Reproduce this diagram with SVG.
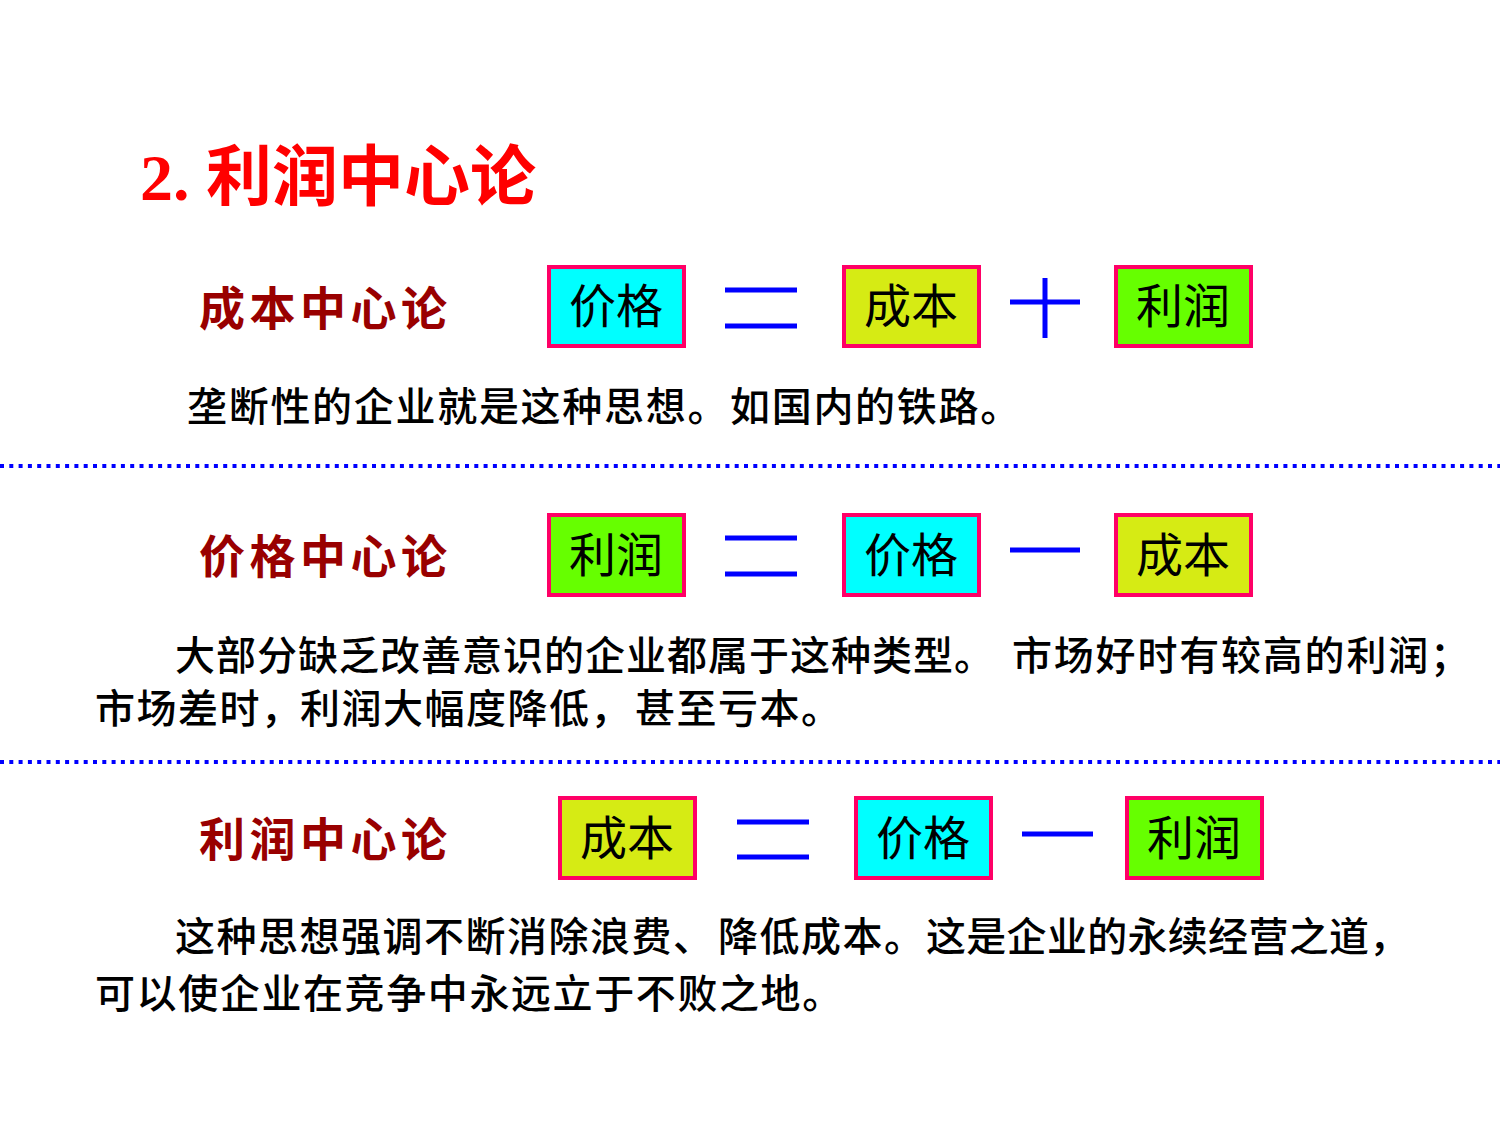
<svg xmlns="http://www.w3.org/2000/svg" width="1500" height="1125" viewBox="0 0 1500 1125">
<style>
.title{font-family:"Liberation Serif","Noto Sans CJK SC",serif;font-weight:bold;font-size:66px;fill:#FF0000}
.sub{font-family:"Noto Sans CJK SC",sans-serif;font-weight:bold;font-size:46px;fill:#990000;letter-spacing:4.5px}
.box{stroke:#FF0066;stroke-width:4}
.cy{fill:#00FFFF}.ye{fill:#D6EB14}.gr{fill:#66FF00}
.bt{font-family:"Noto Sans CJK SC",sans-serif;font-size:47px;fill:#000;text-anchor:middle}
.body{font-family:"Noto Sans CJK SC",sans-serif;font-weight:500;font-size:40px;fill:#000}
.op{stroke:#0000FF;stroke-width:5;fill:none}
.dot{stroke:#0000FF;stroke-width:4;stroke-dasharray:4 5.3;fill:none}
</style>
<rect width="1500" height="1125" fill="#fff"/>
<text class="title" x="140" y="200">2. 利润中心论</text>
<g id="dividers">
<line class="dot" x1="0" y1="466" x2="1500" y2="466"/>
<line class="dot" x1="0" y1="762" x2="1500" y2="762"/>
</g>
<g id="row1">
<text class="sub" x="199" y="325">成本中心论</text>
<g id="r1-price"><rect class="box cy" x="549" y="267" width="135" height="79"/><text class="bt" x="616" y="323">价格</text></g>
<g id="r1-eq"><line class="op" x1="725" y1="290" x2="797" y2="290"/><line class="op" x1="725" y1="326" x2="797" y2="326"/></g>
<g id="r1-cost"><rect class="box ye" x="844" y="267" width="135" height="79"/><text class="bt" x="911" y="323">成本</text></g>
<g id="r1-plus"><line class="op" x1="1010" y1="302" x2="1080" y2="302"/><line class="op" x1="1045" y1="278" x2="1045" y2="338"/></g>
<g id="r1-profit"><rect class="box gr" x="1116" y="267" width="135" height="79"/><text class="bt" x="1183" y="323">利润</text></g>
<text class="body" y="421" letter-spacing="1.7"><tspan x="187">垄断性的企业就是这种思想。</tspan><tspan x="730">如国内的铁路。</tspan></text>
</g>
<g id="row2">
<text class="sub" x="199" y="573">价格中心论</text>
<g id="r2-profit"><rect class="box gr" x="549" y="515" width="135" height="80"/><text class="bt" x="616" y="572">利润</text></g>
<g id="r2-eq"><line class="op" x1="725" y1="538" x2="797" y2="538"/><line class="op" x1="725" y1="574" x2="797" y2="574"/></g>
<g id="r2-price"><rect class="box cy" x="844" y="515" width="135" height="80"/><text class="bt" x="911" y="572">价格</text></g>
<g id="r2-minus"><line class="op" x1="1010" y1="550" x2="1080" y2="550"/></g>
<g id="r2-cost"><rect class="box ye" x="1116" y="515" width="135" height="80"/><text class="bt" x="1183" y="572">成本</text></g>
<text class="body" y="670" letter-spacing="1"><tspan x="175">大部分缺乏改善意识的企业都属于这种类型。</tspan><tspan x="1012" letter-spacing="1.8">市场好时有较高的利润；</tspan></text>
<text class="body" y="723" letter-spacing="1.5"><tspan x="95">市场差时，</tspan><tspan x="300">利润大幅度降低，</tspan><tspan x="635">甚至亏本。</tspan></text>
</g>
<g id="row3">
<text class="sub" x="199" y="856">利润中心论</text>
<g id="r3-cost"><rect class="box ye" x="560" y="798" width="135" height="80"/><text class="bt" x="627" y="855">成本</text></g>
<g id="r3-eq"><line class="op" x1="737" y1="822" x2="809" y2="822"/><line class="op" x1="737" y1="857" x2="809" y2="857"/></g>
<g id="r3-price"><rect class="box cy" x="856" y="798" width="135" height="80"/><text class="bt" x="923" y="855">价格</text></g>
<g id="r3-minus"><line class="op" x1="1022" y1="834" x2="1093" y2="834"/></g>
<g id="r3-profit"><rect class="box gr" x="1127" y="798" width="135" height="80"/><text class="bt" x="1194" y="855">利润</text></g>
<text class="body" y="951" letter-spacing="1.5"><tspan x="175">这种思想强调不断消除浪费、</tspan><tspan x="718">降低成本。</tspan><tspan x="926" letter-spacing="0.3">这是企业的永续经营之道，</tspan></text>
<text class="body" x="95" y="1008" letter-spacing="1.6">可以使企业在竞争中永远立于不败之地。</text>
</g>
</svg>
